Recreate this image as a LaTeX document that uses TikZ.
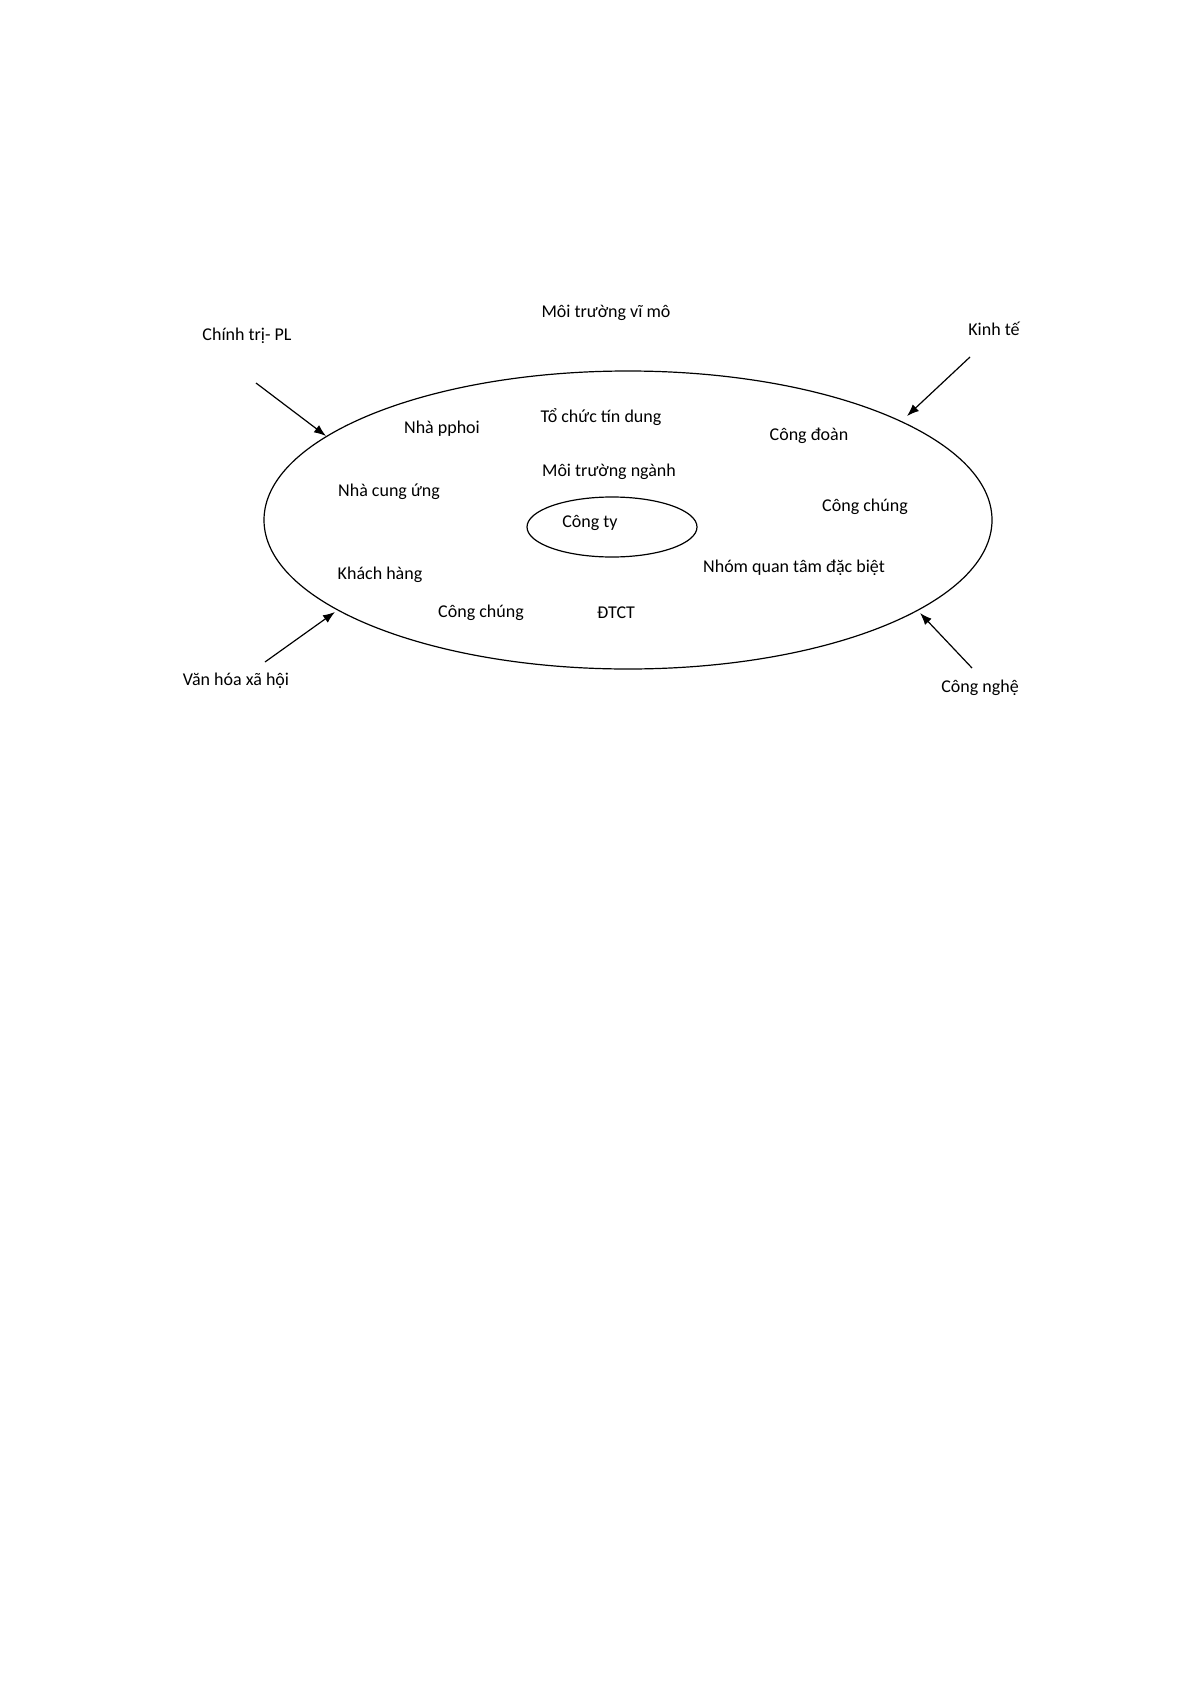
\documentclass[tikz,border=0pt]{standalone}
\usepackage{fontspec}
\setmainfont{Carlito}
\usetikzlibrary{arrows.meta}
\begin{document}
\begin{tikzpicture}[x=0.5pt,y=-0.5pt,
   lbl/.style={font=\fontsize{9}{11}\selectfont, inner sep=0pt},
   ring/.style={line width=0.6pt},
   push/.style={-{Latex[length=6pt,width=4.5pt]}, line width=0.6pt}]
   \useasboundingbox (0,0) rectangle (1191,1685);
   % rings
   \draw[ring] (628,520) ellipse (364 and 149);
   \draw[ring] (612,527) ellipse (85 and 30);
   % labels inside
   \node[lbl] (vimo) at (606,313) {Môi trường vĩ mô};
   \node[lbl] (tindung) at (601,417) {Tổ chức tín dung};
   \node[lbl] (pphoi) at (442,429) {Nhà pphoi};
   \node[lbl] (congdoan) at (809,436) {Công đoàn};
   \node[lbl] (nganh) at (609,472) {Môi trường ngành};
   \node[lbl] (cungung) at (389,492) {Nhà cung ứng};
   \node[lbl] (chungR) at (865,507) {Công chúng};
   \node[lbl] (congty) at (590,523) {Công ty};
   \node[lbl] (nhom) at (794,568) {Nhóm quan tâm đặc biệt};
   \node[lbl] (khach) at (380,575) {Khách hàng};
   \node[lbl] (chungL) at (481,613) {Công chúng};
   \node[lbl] (dtct) at (616,613) {ĐTCT};
   % outside forces
   \node[lbl] (chinhtri) at (247,336) {Chính trị- PL};
   \node[lbl] (kinhte) at (994,329) {Kinh tế};
   \node[lbl] (vanhoa) at (236,681) {Văn hóa xã hội};
   \node[lbl] (congnghe) at (980,688) {Công nghệ};
   \coordinate (ct-a) at (256,383);
   \coordinate (ct-b) at (326,436);
   \coordinate (kt-a) at (970,357);
   \coordinate (kt-b) at (907,416);
   \coordinate (vh-a) at (265,662);
   \coordinate (vh-b) at (335,612);
   \coordinate (cn-a) at (972,668);
   \coordinate (cn-b) at (920,613);
   \draw[push] (ct-a) -- (ct-b);
   \draw[push] (kt-a) -- (kt-b);
   \draw[push] (vh-a) -- (vh-b);
   \draw[push] (cn-a) -- (cn-b);
\end{tikzpicture}
\end{document}
